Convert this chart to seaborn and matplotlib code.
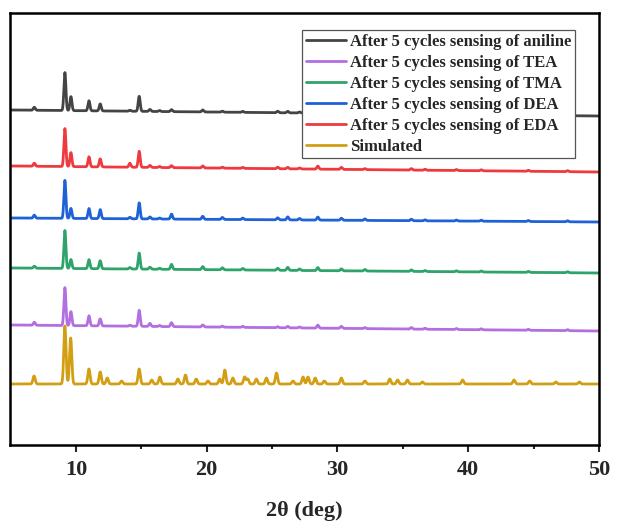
import numpy as np
import pandas as pd
import matplotlib
matplotlib.use("Agg")
import matplotlib.pyplot as plt
import seaborn as sns

# ---------------- data ----------------
labels = ["After 5 cycles sensing of aniline", "After 5 cycles sensing of TEA",
          "After 5 cycles sensing of TMA", "After 5 cycles sensing of DEA",
          "After 5 cycles sensing of EDA", "Simulated"]
colors = ["#444444", "#b36ee0", "#2ea36a", "#1f62d6", "#ee3a3e", "#d29f14"]

# experimental peak positions (2theta, deg)
exp_pos = [6.82, 9.16, 9.62, 11.0, 11.86, 14.13, 14.84, 15.66, 16.4, 17.31,
           19.7, 21.2, 22.76, 25.43, 26.2, 27.1, 28.5, 30.3, 32.1, 35.65,
           36.7, 39.1, 41.0, 44.6, 47.6]
aniline_h = [3, 38, 14, 10, 7, 1, 15, 2, 1, 2, 2, 1, 1, 1.5, 1.5, 1, 2, 1.5, 1, 1, 1, 1, 1, 1, 1]
eda_h     = [3, 38, 14, 10, 8, 4, 16, 2, 1, 2, 2, 1, 1, 1.5, 1.5, 1, 3, 2, 1, 1.5, 1, 1, 1, 1, 1]
dea_h     = [3, 38, 10, 10, 9, 1.5, 16, 2, 1, 5, 3, 2, 1.5, 2, 3, 1.5, 3, 2, 1.5, 1.5, 1, 1, 1, 1, 1]
tma_h     = [2, 38, 9, 9, 8, 1.5, 16, 2, 1, 5, 3, 2, 1.5, 2, 3, 1.5, 3, 2, 1.5, 1.5, 1, 1, 1, 1, 1]
tea_h     = [3, 38, 14, 10, 7, 1, 16, 3, 1, 4, 2, 1, 1, 1, 1.5, 1, 3, 2, 1, 1.5, 1, 1, 1, 1, 1]

# simulated peak positions / heights
sim_pos = [6.8, 9.16, 9.6, 11.0, 11.86, 12.4, 13.5, 14.84, 15.8, 16.42, 17.8, 18.38,
           19.2, 20.1, 21.0, 21.39, 22.0, 22.9, 23.14, 23.8, 24.57, 25.34, 26.6,
           27.37, 27.75, 28.3, 29.0, 30.3, 32.1, 34.0, 34.6, 35.35, 36.5, 39.57,
           43.5, 44.7, 46.7, 48.5]
sim_h   = [8, 58, 46, 15, 12, 6, 3, 15, 4, 7, 5, 9,
           5, 3, 5, 14, 6, 7, 5, 5, 6, 11, 3,
           7, 7, 6, 3, 6, 3, 5, 4, 4, 2, 4,
           4, 3, 2, 2]

# baselines (left, right) in stacked units
base_left  = [335, 120, 177, 227, 279, 61]
base_right = [329, 114, 172, 223, 273, 61]
widths = [0.075, 0.075, 0.075, 0.075, 0.075, 0.085]

peaks = [(exp_pos, aniline_h), (exp_pos, tea_h), (exp_pos, tma_h),
         (exp_pos, dea_h), (exp_pos, eda_h), (sim_pos, sim_h)]

# ---------------- build profiles ----------------
two_theta = np.linspace(5, 50, 4501)
frames = []
for lab, (pos, hts), bl, br, w in zip(labels, peaks, base_left, base_right, widths):
    y = bl + (br - bl) * (two_theta - 5) / 45.0
    for p, h in zip(pos, hts):
        y = y + h * np.exp(-0.5 * ((two_theta - p) / w) ** 2)
    frames.append(pd.DataFrame({"x": two_theta, "y": y, "series": lab}))
df = pd.concat(frames, ignore_index=True)

# ---------------- plot ----------------
sns.set_style("ticks")
plt.rcParams["font.family"] = ["Liberation Serif", "DejaVu Serif"]
plt.rcParams["font.weight"] = "bold"

fig = plt.figure(figsize=(6.17, 5.21), dpi=100)
ax = fig.add_axes([10.5 / 617, 1 - 445 / 521, 588.5 / 617, 432 / 521])

draw_order = [5, 1, 2, 3, 4, 0]
for i in draw_order:
    sub = df[df["series"] == labels[i]]
    sns.lineplot(data=sub, x="x", y="y", ax=ax, color=colors[i], lw=2.0,
                 label=labels[i], estimator=None, sort=False)
h, l = ax.get_legend_handles_labels()
hmap = dict(zip(l, h))
leg = ax.legend([hmap[t] for t in labels], labels, loc="upper right",
                bbox_to_anchor=(0.959, 0.961), borderaxespad=0, frameon=True,
                fancybox=False, edgecolor="#555555", framealpha=1,
                prop={"family": "Liberation Serif", "weight": "bold", "size": 12},
                handlelength=2.4, handletextpad=0.25, labelspacing=0.3,
                borderpad=0.22)
leg.get_frame().set_linewidth(0.9)

ax.set_xlim(5, 50)
ax.set_ylim(0, 432)
ax.set_yticks([])
ax.set_ylabel("")
ax.set_xticks([10, 20, 30, 40, 50])
ax.set_xticks([15, 25, 35, 45], minor=True)
ax.tick_params(axis="x", which="major", length=5, width=1.5, direction="out",
               labelsize=16, pad=6)
ax.tick_params(axis="x", which="minor", length=3, width=1.5, direction="out")
for t in ax.get_xticklabels():
    t.set_fontweight("bold")
ax.set_xlabel("2θ (deg)", fontsize=16, fontweight="bold", labelpad=15)
for s in ax.spines.values():
    s.set_visible(True)
    s.set_linewidth(1.8)
    s.set_color("black")

fig.savefig("out.png", dpi=100)
